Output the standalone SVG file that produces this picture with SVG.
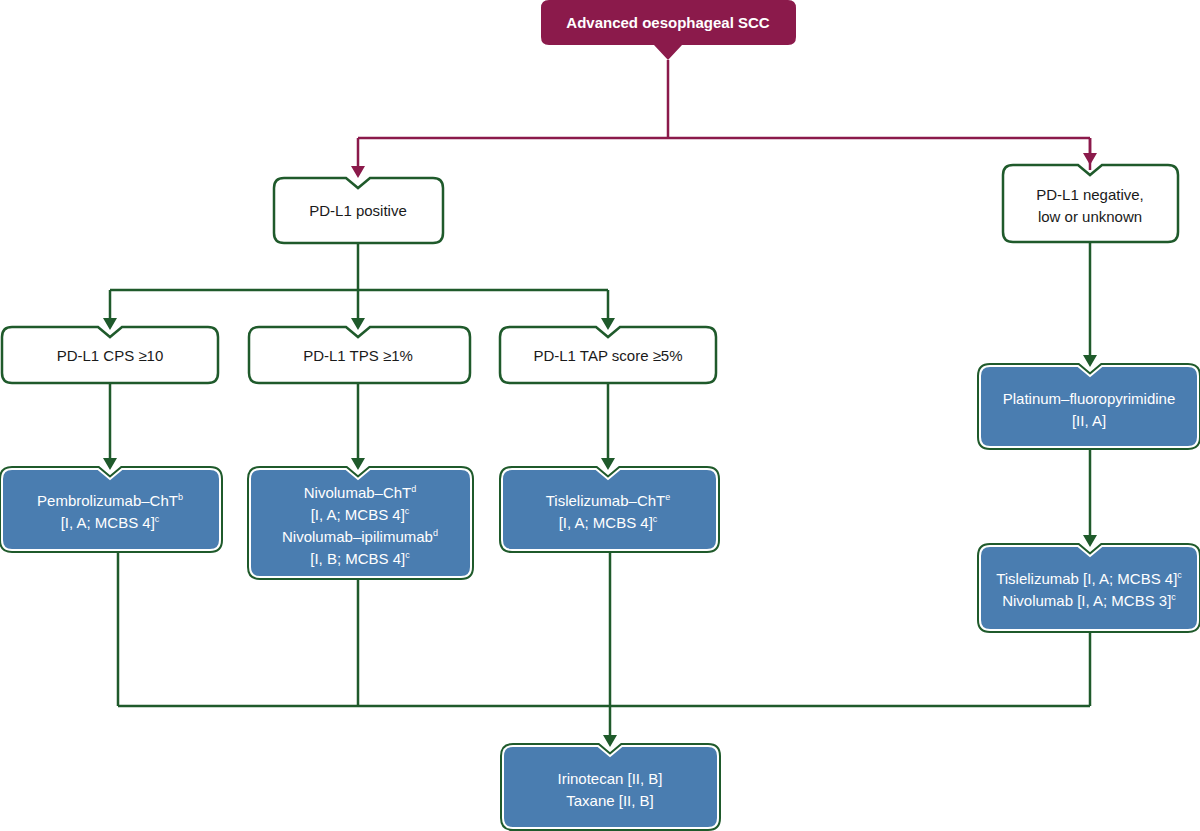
<svg xmlns="http://www.w3.org/2000/svg" width="1200" height="831" viewBox="0 0 1200 831">
<style>
text{font-family:"Liberation Sans",Arial,sans-serif;font-size:15px;text-anchor:middle;font-stretch:condensed}
.w{fill:#fff}.k{fill:#1a1a1a}
.ln{fill:none;stroke:#1f5a2b;stroke-width:2.5}
.lm{fill:none;stroke:#8b1a4b;stroke-width:2.5}
.wb{fill:#fff;stroke:#1f5a2b;stroke-width:2.5}
.bo{fill:#4a7db0;stroke:#1f5a2b;stroke-width:6}
.bi{fill:#4a7db0;stroke:#fff;stroke-width:2}
</style>
<defs>
<marker id="ag" viewBox="0 0 14 12" refX="7" refY="11" markerWidth="14" markerHeight="12" markerUnits="userSpaceOnUse" orient="auto-start-reverse"><path d="M0,0 L14,0 L7,12 Z" fill="#1f5a2b" transform="rotate(-90 7 6)"/></marker>
</defs>
<g id="connectors">
<path class="lm" d="M668,60 V138 M358,138 H1090"/>
<path class="lm" d="M358,138 V170 M1090,138 V170"/>
<path fill="#8b1a4b" d="M351,166 H365 L358,178 Z M1083,153 H1097 L1090,165 Z"/>
<path class="lm" d="M1090,138 V155"/>
<path class="ln" d="M358,243 V290 M110,290 H608 M110,290 V320 M358,290 V320 M608,290 V320"/>
<path class="ln" d="M110,383 V460 M358,383 V460 M608,383 V460 M1090,242 V357 M1090,447 V537"/>
<path class="ln" d="M118,550 V706 M358,577 V706 M610,550 V737 M1090,630 V706 M118,706 H1090"/>
<path fill="#1f5a2b" d="M103,318 H117 L110,330 Z M351,318 H365 L358,330 Z M601,318 H615 L608,330 Z M103,458 H117 L110,470 Z M351,458 H365 L358,470 Z M601,458 H615 L608,470 Z M1083,355 H1097 L1090,367 Z M1083,535 H1097 L1090,547 Z M603,735 H617 L610,747 Z"/>
</g>
<g id="n0"><path fill="#8b1a4b" d="M549,0 H788 Q796,0 796,8 V37 Q796,45 788,45 H682 L668,60 L654,45 H549 Q541,45 541,37 V8 Q541,0 549,0 Z"/><text class="w" x="668" y="28" font-weight="bold">Advanced oesophageal SCC</text></g>
<g id="n1"><path class="wb" d="M284,178 H346 L358,188 L370,178 H433 Q443,178 443,188 V233 Q443,243 433,243 H284 Q274,243 274,233 V188 Q274,178 284,178 Z"/><text class="k" x="358" y="216">PD-L1 positive</text></g>
<g id="n2"><path class="wb" d="M1013,165 H1078 L1090,175 L1102,165 H1168 Q1178,165 1178,175 V232 Q1178,242 1168,242 H1013 Q1003,242 1003,232 V175 Q1003,165 1013,165 Z"/><text class="k" x="1090" y="200">PD-L1 negative,</text><text class="k" x="1090" y="222">low or unknown</text></g>
<g id="n3"><path class="wb" d="M12,327 H98 L110,337 L122,327 H208 Q218,327 218,337 V373 Q218,383 208,383 H12 Q2,383 2,373 V337 Q2,327 12,327 Z"/><text class="k" x="110" y="361">PD-L1 CPS ≥10</text></g>
<g id="n4"><path class="wb" d="M259,327 H346 L358,337 L370,327 H460 Q470,327 470,337 V373 Q470,383 460,383 H259 Q249,383 249,373 V337 Q249,327 259,327 Z"/><text class="k" x="358" y="361">PD-L1 TPS ≥1%</text></g>
<g id="n5"><path class="wb" d="M510,327 H596 L608,337 L620,327 H706 Q716,327 716,337 V373 Q716,383 706,383 H510 Q500,383 500,373 V337 Q500,327 510,327 Z"/><text class="k" x="608" y="361">PD-L1 TAP score ≥5%</text></g>
<g id="n6"><path class="bo" d="M12,469 H98 L110,479 L122,469 H210 Q220,469 220,479 V540 Q220,550 210,550 H12 Q2,550 2,540 V479 Q2,469 12,469 Z"/><path class="bi" d="M12,469 H98 L110,479 L122,469 H210 Q220,469 220,479 V540 Q220,550 210,550 H12 Q2,550 2,540 V479 Q2,469 12,469 Z"/><text class="w" x="110" y="506">Pembrolizumab–ChT<tspan font-size="9" dy="-6">b</tspan></text><text class="w" x="110" y="528">[I, A; MCBS 4]<tspan font-size="9" dy="-6">c</tspan></text></g>
<g id="n7"><path class="bo" d="M260,469 H346 L358,479 L370,469 H461 Q471,469 471,479 V567 Q471,577 461,577 H260 Q250,577 250,567 V479 Q250,469 260,469 Z"/><path class="bi" d="M260,469 H346 L358,479 L370,469 H461 Q471,469 471,479 V567 Q471,577 461,577 H260 Q250,577 250,567 V479 Q250,469 260,469 Z"/><text class="w" x="360" y="498">Nivolumab–ChT<tspan font-size="9" dy="-6">d</tspan></text><text class="w" x="360" y="520">[I, A; MCBS 4]<tspan font-size="9" dy="-6">c</tspan></text><text class="w" x="360" y="542">Nivolumab–ipilimumab<tspan font-size="9" dy="-6">d</tspan></text><text class="w" x="360" y="564">[I, B; MCBS 4]<tspan font-size="9" dy="-6">c</tspan></text></g>
<g id="n8"><path class="bo" d="M512,469 H596 L608,479 L620,469 H707 Q717,469 717,479 V540 Q717,550 707,550 H512 Q502,550 502,540 V479 Q502,469 512,469 Z"/><path class="bi" d="M512,469 H596 L608,479 L620,469 H707 Q717,469 717,479 V540 Q717,550 707,550 H512 Q502,550 502,540 V479 Q502,469 512,469 Z"/><text class="w" x="608" y="506">Tislelizumab–ChT<tspan font-size="9" dy="-6">e</tspan></text><text class="w" x="608" y="528">[I, A; MCBS 4]<tspan font-size="9" dy="-6">c</tspan></text></g>
<g id="n9"><path class="bo" d="M990,366 H1078 L1090,376 L1102,366 H1188 Q1198,366 1198,376 V437 Q1198,447 1188,447 H990 Q980,447 980,437 V376 Q980,366 990,366 Z"/><path class="bi" d="M990,366 H1078 L1090,376 L1102,366 H1188 Q1198,366 1198,376 V437 Q1198,447 1188,447 H990 Q980,447 980,437 V376 Q980,366 990,366 Z"/><text class="w" x="1089" y="404">Platinum–fluoropyrimidine</text><text class="w" x="1089" y="426">[II, A]</text></g>
<g id="n10"><path class="bo" d="M990,546 H1078 L1090,556 L1102,546 H1188 Q1198,546 1198,556 V620 Q1198,630 1188,630 H990 Q980,630 980,620 V556 Q980,546 990,546 Z"/><path class="bi" d="M990,546 H1078 L1090,556 L1102,546 H1188 Q1198,546 1198,556 V620 Q1198,630 1188,630 H990 Q980,630 980,620 V556 Q980,546 990,546 Z"/><text class="w" x="1089" y="584">Tislelizumab [I, A; MCBS 4]<tspan font-size="9" dy="-6">c</tspan></text><text class="w" x="1089" y="606">Nivolumab [I, A; MCBS 3]<tspan font-size="9" dy="-6">c</tspan></text></g>
<g id="n11"><path class="bo" d="M513,746 H598 L610,756 L622,746 H708 Q718,746 718,756 V818 Q718,828 708,828 H513 Q503,828 503,818 V756 Q503,746 513,746 Z"/><path class="bi" d="M513,746 H598 L610,756 L622,746 H708 Q718,746 718,756 V818 Q718,828 708,828 H513 Q503,828 503,818 V756 Q503,746 513,746 Z"/><text class="w" x="610" y="784">Irinotecan [II, B]</text><text class="w" x="610" y="806">Taxane [II, B]</text></g>
</svg>
